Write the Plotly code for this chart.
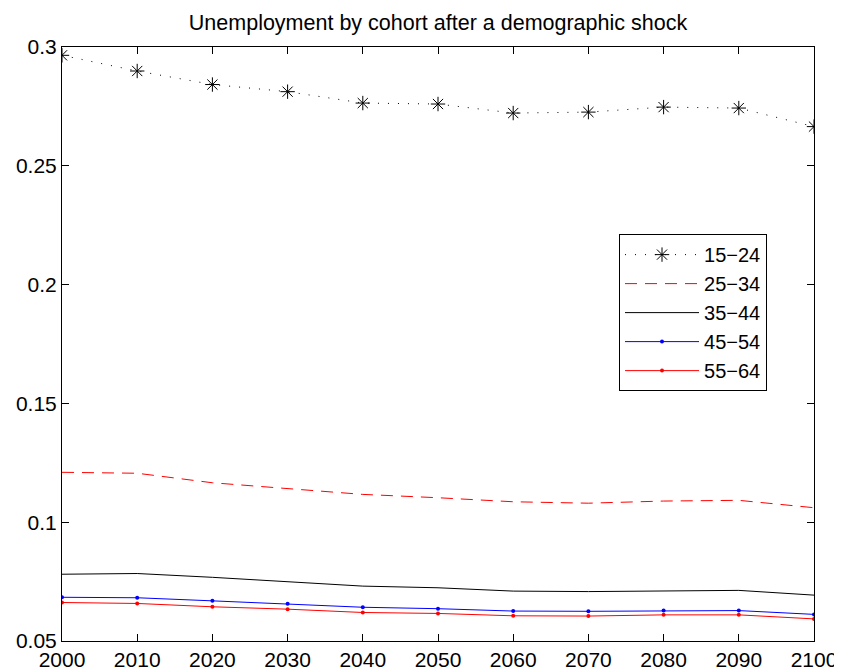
import plotly.graph_objects as go

years = [2000, 2010, 2020, 2030, 2040, 2050, 2060, 2070, 2080, 2090, 2100]
c15_24 = [0.2965, 0.2899, 0.2842, 0.2812, 0.2764, 0.2760, 0.2722, 0.2726, 0.2747, 0.2743, 0.2665]
c25_34 = [0.1210, 0.1206, 0.1166, 0.1142, 0.1117, 0.1103, 0.1086, 0.1080, 0.1089, 0.1092, 0.1061]
c35_44 = [0.0781, 0.0784, 0.0768, 0.0751, 0.0731, 0.0724, 0.0710, 0.0708, 0.0711, 0.0713, 0.0693]
c45_54 = [0.0684, 0.0682, 0.0669, 0.0657, 0.0642, 0.0636, 0.0626, 0.0625, 0.0628, 0.0628, 0.0612]
c55_64 = [0.0662, 0.0658, 0.0644, 0.0634, 0.0620, 0.0616, 0.0606, 0.0605, 0.0610, 0.0610, 0.0593]
labels = ["15\u221224", "25\u221234", "35\u221244", "45\u221254", "55\u221264"]
y_ticks = [0.05, 0.1, 0.15, 0.2, 0.25, 0.3]
y_tick_text = ["0.05", "0.1", "0.15", "0.2", "0.25", "0.3"]

fig = go.Figure()
fig.add_trace(go.Scatter(x=years, y=c15_24, name=labels[0], mode="lines+markers",
                         line=dict(color="black", width=1, dash="1px,9px"),
                         marker=dict(symbol="asterisk-open", size=12, color="black",
                                     line=dict(color="black", width=1))))
fig.add_trace(go.Scatter(x=years, y=c25_34, name=labels[1], mode="lines",
                         line=dict(color="red", width=1, dash="12px,8px")))
fig.add_trace(go.Scatter(x=years, y=c35_44, name=labels[2], mode="lines",
                         line=dict(color="black", width=1)))
fig.add_trace(go.Scatter(x=years, y=c45_54, name=labels[3], mode="lines+markers",
                         line=dict(color="blue", width=1),
                         marker=dict(symbol="circle", size=4, color="blue")))
fig.add_trace(go.Scatter(x=years, y=c55_64, name=labels[4], mode="lines+markers",
                         line=dict(color="red", width=1),
                         marker=dict(symbol="circle", size=4, color="red")))

axis_common = dict(showgrid=False, zeroline=False, showline=True, linecolor="black",
                   linewidth=1, mirror="ticks", ticks="inside", ticklen=7,
                   tickcolor="black", tickfont=dict(size=21, color="black"),
                   automargin=False)

fig.update_layout(
    width=834, height=663,
    paper_bgcolor="white", plot_bgcolor="white",
    font=dict(family="Liberation Sans, Arial, sans-serif", color="black"),
    margin=dict(l=54, r=28, t=39, b=30),
    title=dict(text="Unemployment by cohort after a demographic shock",
               x=0.5, xref="paper", xanchor="center", y=0.978, yanchor="middle",
               font=dict(size=21.5, color="black"), automargin=False),
    xaxis=dict(range=[2000, 2100], tickmode="array", tickvals=years,
               ticktext=[str(y) for y in years], **axis_common),
    yaxis=dict(range=[0.05, 0.3], tickmode="array", tickvals=y_ticks,
               ticktext=y_tick_text, **axis_common),
    legend=dict(x=0.7407, y=0.685, xanchor="left", yanchor="top",
                bordercolor="black", borderwidth=1, bgcolor="white",
                font=dict(size=20, color="black"), tracegroupgap=0,
                itemwidth=74),
    showlegend=True,
)

fig.write_html("out.html")
